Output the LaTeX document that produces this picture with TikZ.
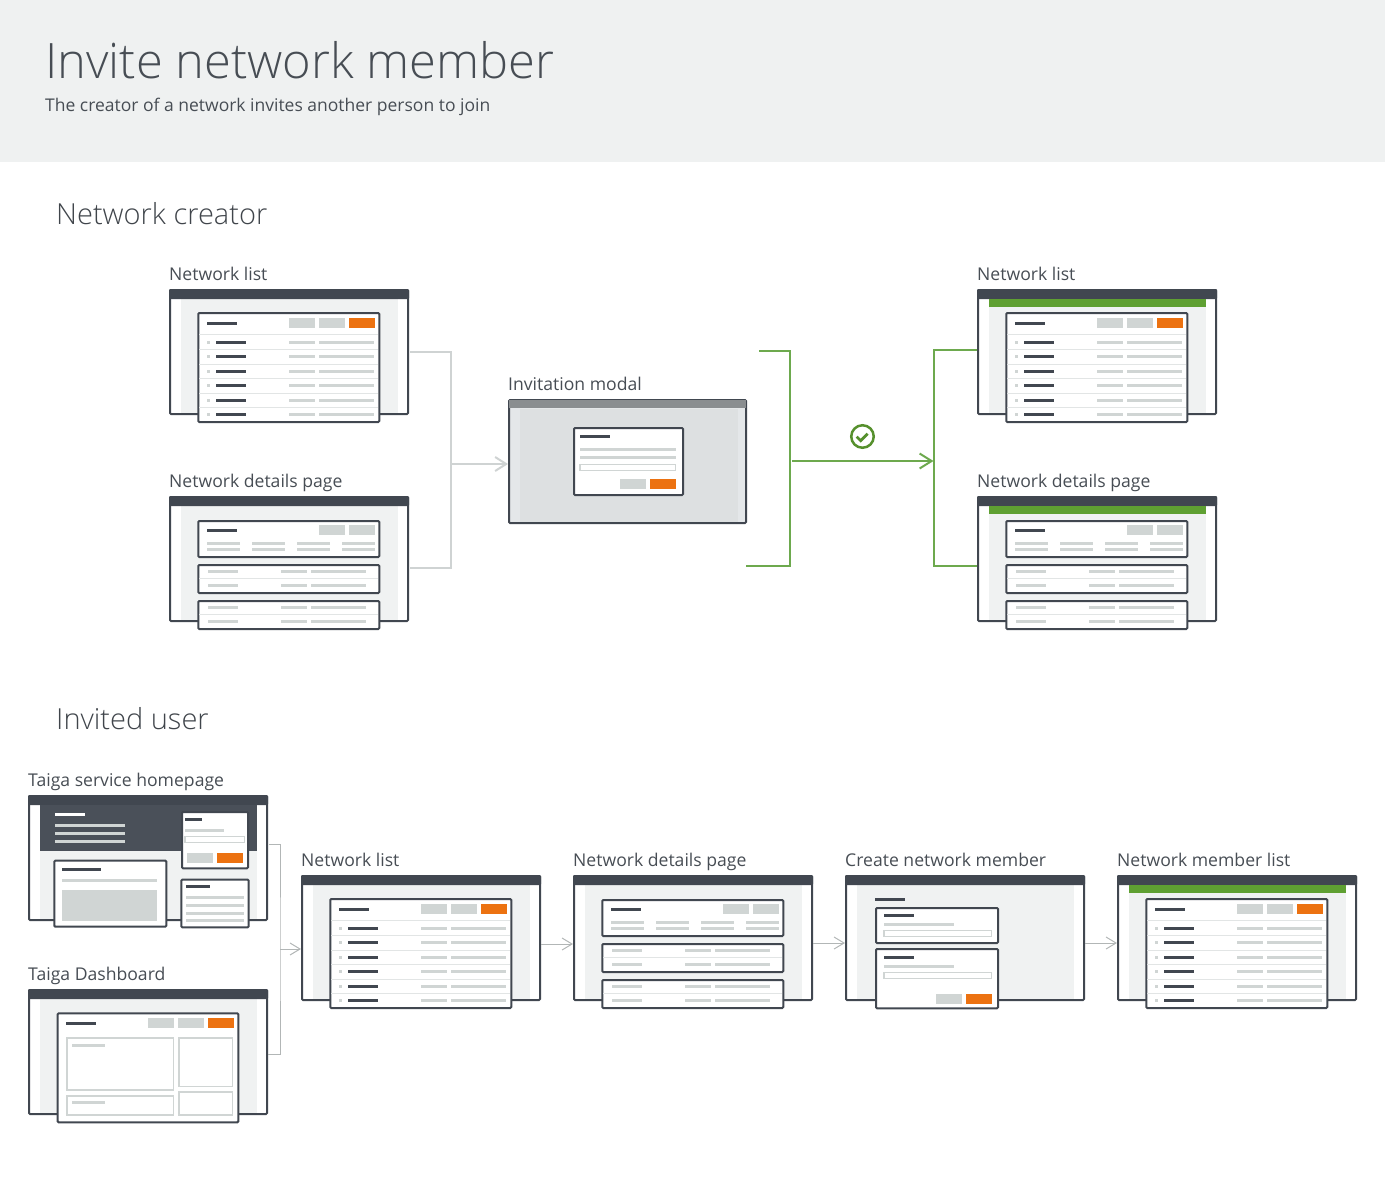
\documentclass[tikz,border=0pt]{standalone}
\usepackage{fontspec}
\setmainfont{Open Sans}
\newfontfamily\lightfont{Open Sans Light}
\usetikzlibrary{arrows.meta}

\definecolor{inkdark}{HTML}{414750}
\definecolor{textdark}{HTML}{474D54}
\definecolor{greybtn}{HTML}{D0D5D4}
\definecolor{ruleline}{HTML}{E2E5E5}
\definecolor{panelgrey}{HTML}{F0F2F2}
\definecolor{headgrey}{HTML}{EFF1F1}
\definecolor{modalside}{HTML}{E4E7E9}
\definecolor{modalback}{HTML}{DDE0E1}
\definecolor{modalbar}{HTML}{8A8E90}
\definecolor{btnorange}{HTML}{EC7211}
\definecolor{stripgreen}{HTML}{5FA032}
\definecolor{linkgreen}{HTML}{6DA94E}
\definecolor{linkgrey}{HTML}{CFD3D3}
\definecolor{thingrey}{HTML}{B2B6B6}

\tikzset{
  screen/.style={rectangle, draw=inkdark, line width=2pt, fill=white, anchor=north west,
    rounded corners=1pt, minimum width=238pt, minimum height=124pt, inner sep=0pt},
  modalbox/.style={screen, fill=modalside, minimum width=237pt, minimum height=123pt},
  caption/.style={anchor=base west, inner sep=0pt, text=textdark, font=\fontsize{17.6}{22}\selectfont},
  heading/.style={anchor=base west, inner sep=0pt, text=textdark!90!black, font=\lightfont\fontsize{29}{36}\selectfont},
  card/.style={draw=inkdark, line width=2pt, fill=white, rounded corners=1pt},
  darkrule/.style={draw=inkdark, line width=3pt},
  greyrule/.style={draw=greybtn, line width=3pt},
  divider/.style={draw=ruleline, line width=1.2pt},
  inputbox/.style={draw=greybtn, line width=1.2pt, fill=white},
  softbox/.style={draw=greybtn, line width=1.6pt, fill=white},
  greylink/.style={draw=linkgrey, line width=2pt},
  greenlink/.style={draw=linkgreen, line width=2pt},
  thinlink/.style={draw=thingrey, line width=1pt},
  greyarrow/.style={greylink, -{Straight Barb[length=11pt,width=14pt]}},
  greenarrow/.style={greenlink, -{Straight Barb[length=12pt,width=15pt]}},
  thinarrow/.style={thinlink, -{Straight Barb[length=10pt,width=12pt]}}
}

\newcommand{\darkbar}[3]{\draw[darkrule] (#1,#3) -- (#2,#3);}
\newcommand{\greybar}[3]{\draw[greyrule] (#1,#3) -- (#2,#3);}
\newcommand{\greybtn}[2]{\fill[greybtn] (#1,#2) rectangle (#1+26,#2+10);}
\newcommand{\orangebtn}[2]{\fill[btnorange] (#1,#2) rectangle (#1+26,#2+10);}

% browser window: name, x, y, caption
\newcommand{\screenframe}[4]{
  \node[screen] (#1) at (#2,#3) {};
  \node[caption] (#1-label) at ([yshift=8.5pt]#1.north west) {#4};
  \fill[panelgrey] (#2+12,#3+10) rectangle (#2+229,#3+124);
  \fill[inkdark, rounded corners=1pt] (#2,#3) rectangle (#2+240,#3+10);
}
\newcommand{\greenstrip}{\fill[stripgreen] (12,10) rectangle (229,18);}

\newcommand{\listcard}{
  \draw[card] (29.3,24) rectangle (210.3,133);
  \darkbar{38}{68}{34.3}
  \greybtn{120}{29} \greybtn{150}{29} \orangebtn{180}{29}
  \draw[divider] (30,45.3) -- (209,45.3);
  \foreach \y in {60.3,75.3,89.7,104.3,118.7}
    \draw[divider] (30,\y) -- (209,\y);
  \foreach \y in {53.3,67.7,82,96.7,111,125.3} {
    \fill[greybtn] (38,\y-1.5) rectangle (41,\y+1.5);
    \darkbar{47}{77}{\y}
    \greybar{120}{146}{\y}
    \greybar{150}{205}{\y}
  }
}
\newcommand{\detailcard}{
  \draw[card] (29.3,25) rectangle (210.3,61);
  \darkbar{38}{68}{34.3}
  \greybtn{150}{29} \greybtn{180}{29}
  \foreach \x in {38,83,128,173} {
    \greybar{\x}{\x+33}{47.3}
    \greybar{\x}{\x+33}{53.3}
  }
  \foreach \y in {69,105} {
    \draw[card] (29.3,\y) rectangle (210.3,\y+28);
    \draw[divider] (30,\y+13.3) -- (209,\y+13.3);
    \foreach \d in {6,20.3} {
      \greybar{39}{69}{\y+\d}
      \greybar{112}{138}{\y+\d}
      \greybar{142}{197}{\y+\d}
    }
  }
}

\begin{document}
\begin{tikzpicture}[x=1pt, y=-1pt]
  \useasboundingbox (0,0) rectangle (1385,1179);
  \fill[headgrey] (0,0) rectangle (1385,162);
  \node[anchor=base west, inner sep=0pt, text=textdark, font=\lightfont\fontsize{48.8}{60}\selectfont] (title) at (45,78) {Invite network member};
  \node[caption, font=\fontsize{17.5}{22}\selectfont] (subtitle) at (45,111) {The creator of a network invites another person to join};
  \node[heading] (creator) at (56,224) {Network creator};
  \node[heading] (invited) at (56,729) {Invited user};

  % network creator
  \screenframe{listA}{169}{289}{Network list}
  \begin{scope}[shift={(169,289)}] \listcard \end{scope}
  \screenframe{detailsA}{169}{496}{Network details page}
  \begin{scope}[shift={(169,496)}] \detailcard \end{scope}

  \node[modalbox] (modal) at (508,399) {};
  \node[caption] (modal-label) at ([yshift=9pt]modal.north west) {Invitation modal};
  \begin{scope}[shift={(508,399)}]
    \fill[modalback] (12,10) rectangle (229.5,123);
    \fill[modalbar] (1,1) rectangle (238,9);
    \draw[card] (66,29) rectangle (175,96);
    \darkbar{72}{102}{37.3}
    \greybar{72}{168}{50.3}
    \greybar{72}{168}{58.3}
    \draw[inputbox] (72,65.3) rectangle (167.7,71.7);
    \greybtn{112}{80} \orangebtn{142}{80}
  \end{scope}

  \screenframe{listB}{977}{289}{Network list}
  \begin{scope}[shift={(977,289)}] \greenstrip \listcard \end{scope}
  \screenframe{detailsB}{977}{496}{Network details page}
  \begin{scope}[shift={(977,496)}] \greenstrip \detailcard \end{scope}

  \coordinate (greyjoin) at (451,464);
  \draw[greylink] ([xshift=1pt]listA.east) -| (greyjoin) |- ([xshift=1pt,yshift=-9pt]detailsA.east);
  \draw[greyarrow] (greyjoin) -- (modal.west |- greyjoin);

  \coordinate (modaltop) at (759,351);
  \coordinate (modalbot) at (746,566);
  \coordinate (modaljoin) at (790,461);
  \coordinate (okjoin) at (933.5,461);
  \draw[greenlink] (modaltop) -| (modaljoin) |- (modalbot);
  \draw[greenarrow] ([xshift=2pt]modaljoin) -- (okjoin);
  \draw[greenlink] ([yshift=2.5pt]listB.west) -| (okjoin) |- ([yshift=-7pt]detailsB.west);

  \node[circle, draw=stripgreen!90!black, line width=2.5pt, minimum size=22.5pt, inner sep=0pt] (okicon) at (862.5,436.5) {};
  \draw[stripgreen!90!black, line width=2.8pt] ([shift={(-5.8,0.2)}]okicon.center) -- ([shift={(-1.8,4.2)}]okicon.center) -- ([shift={(5.2,-2.8)}]okicon.center);

  % invited user
  \screenframe{homepage}{28}{795}{Taiga service homepage}
  \begin{scope}[shift={(28,795)}]
    \fill[inkdark!95!white] (12,10) rectangle (229,56);
    \draw[white, line width=3pt] (27,19.3) -- (57,19.3);
    \foreach \y in {30.3,38.3,46.3} {
      \greybar{27}{97}{\y}
    }
    \draw[card] (154,17) rectangle (220,73.3);
    \darkbar{157}{174}{24.3}
    \greybar{157}{196}{35.3}
    \draw[inputbox] (157,41.3) rectangle (216.7,47.7);
    \greybtn{159}{58} \orangebtn{189}{58}
    \draw[card] (26.3,65.7) rectangle (138.3,131.7);
    \darkbar{34}{73}{74.3}
    \greybar{34}{129}{85.3}
    \fill[greybtn] (34,95) rectangle (129,125.7);
    \draw[card] (153.3,84.7) rectangle (220.7,132.3);
    \darkbar{158}{182}{91.3}
    \foreach \y in {102.3,110.3,118.3,125.3} {
      \greybar{158}{216}{\y}
    }
  \end{scope}

  \screenframe{dashboard}{28}{989}{Taiga Dashboard}
  \begin{scope}[shift={(28,989)}]
    \draw[card] (29.7,24.3) rectangle (210.3,133.3);
    \darkbar{38}{68}{34.3}
    \greybtn{120}{29} \greybtn{150}{29} \orangebtn{180}{29}
    \draw[softbox] (38.7,49) rectangle (145.3,100.7);
    \draw[softbox] (150.7,49) rectangle (204.3,97.3);
    \draw[softbox] (38.7,106.7) rectangle (145.3,126);
    \draw[softbox] (150.7,102.7) rectangle (204.3,126);
    \greybar{44}{77}{56.3}
    \greybar{44}{77}{113.3}
  \end{scope}

  \screenframe{listC}{301}{875}{Network list}
  \begin{scope}[shift={(301,875)}] \listcard \end{scope}
  \screenframe{detailsC}{573}{875}{Network details page}
  \begin{scope}[shift={(573,875)}] \detailcard \end{scope}
  \screenframe{create}{845}{875}{Create network member}
  \begin{scope}[shift={(845,875)}]
    \darkbar{30}{60}{24.3}
    \draw[card] (31,33) rectangle (153,68);
    \darkbar{39}{69}{40.3}
    \greybar{39}{109}{49.3}
    \draw[inputbox] (39,55.3) rectangle (146.7,61.7);
    \draw[card] (31,74) rectangle (153,133.3);
    \darkbar{39}{69}{82.3}
    \greybar{39}{109}{91.3}
    \draw[inputbox] (39,97.3) rectangle (146.7,103.7);
    \greybtn{91}{119} \orangebtn{121}{119}
  \end{scope}
  \screenframe{members}{1117}{875}{Network member list}
  \begin{scope}[shift={(1117,875)}] \greenstrip \listcard \end{scope}

  \coordinate (thinjoin) at (280,949);
  \draw[thinlink] ([xshift=1pt,yshift=14pt]homepage.east) -| (thinjoin) |- ([yshift=-2pt]dashboard.east);
  \draw[thinarrow] (thinjoin) -- (listC.west |- thinjoin);
  \draw[thinarrow] ([yshift=-6pt]listC.east) -- ([yshift=-6pt]detailsC.west);
  \draw[thinarrow] ([yshift=-5pt]detailsC.east) -- ([yshift=-5pt]create.west);
  \draw[thinarrow] ([yshift=-5pt]create.east) -- ([yshift=-5pt]members.west);
\end{tikzpicture}
\end{document}
